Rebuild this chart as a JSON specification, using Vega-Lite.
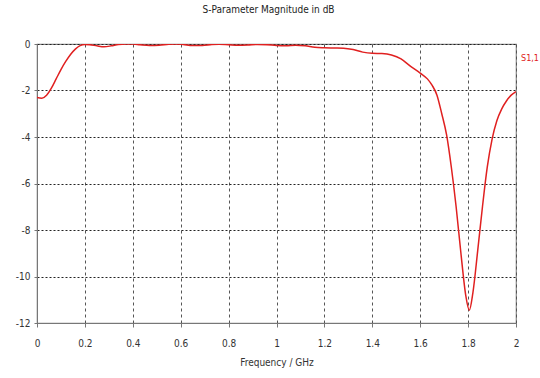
{
  "$schema": "https://vega.github.io/schema/vega-lite/v6.json",
  "width": 479,
  "height": 279,
  "autosize": {"type": "none"},
  "padding": {"left": 37, "top": 44, "right": 24, "bottom": 55},
  "background": "white",
  "title": {"text": "S-Parameter Magnitude in dB", "fontSize": 10, "fontWeight": "normal", "font": "DejaVu Sans Condensed", "color": "#222", "anchor": "middle", "offset": 24, "dx": -8},
  "config": {
    "view": {"stroke": "#888", "strokeWidth": 1.2},
    "axis": {"labelFont": "DejaVu Sans Condensed", "titleFont": "DejaVu Sans Condensed", "labelFontSize": 10, "titleFontSize": 10, "titleFontWeight": "normal", "labelColor": "#333", "titleColor": "#333", "domainColor": "#777", "tickColor": "#777"}
  },
  "datasets": {
    "s11": [
      {"f": 0, "db": -2.3}, {"f": 0.02, "db": -2.33}, {"f": 0.04, "db": -2.2}, {"f": 0.06, "db": -1.9},
      {"f": 0.08, "db": -1.5}, {"f": 0.10, "db": -1.1}, {"f": 0.12, "db": -0.75}, {"f": 0.14, "db": -0.45},
      {"f": 0.16, "db": -0.22}, {"f": 0.18, "db": -0.07}, {"f": 0.20, "db": -0.02}, {"f": 0.22, "db": -0.03},
      {"f": 0.25, "db": -0.08}, {"f": 0.28, "db": -0.12}, {"f": 0.31, "db": -0.08}, {"f": 0.34, "db": -0.02},
      {"f": 0.37, "db": 0.0}, {"f": 0.40, "db": 0.0}, {"f": 0.43, "db": -0.03}, {"f": 0.47, "db": -0.06},
      {"f": 0.51, "db": -0.05}, {"f": 0.55, "db": -0.01}, {"f": 0.58, "db": 0.0}, {"f": 0.61, "db": -0.02},
      {"f": 0.65, "db": -0.06}, {"f": 0.69, "db": -0.06}, {"f": 0.73, "db": -0.02}, {"f": 0.76, "db": -0.01},
      {"f": 0.80, "db": -0.03}, {"f": 0.84, "db": -0.05}, {"f": 0.88, "db": -0.04}, {"f": 0.92, "db": -0.02},
      {"f": 0.96, "db": -0.03}, {"f": 1.00, "db": -0.06}, {"f": 1.04, "db": -0.07}, {"f": 1.08, "db": -0.05},
      {"f": 1.12, "db": -0.08}, {"f": 1.16, "db": -0.14}, {"f": 1.20, "db": -0.16}, {"f": 1.24, "db": -0.17},
      {"f": 1.28, "db": -0.18}, {"f": 1.32, "db": -0.24}, {"f": 1.36, "db": -0.35}, {"f": 1.40, "db": -0.40},
      {"f": 1.44, "db": -0.41}, {"f": 1.48, "db": -0.47}, {"f": 1.52, "db": -0.64}, {"f": 1.56, "db": -0.96},
      {"f": 1.60, "db": -1.25}, {"f": 1.63, "db": -1.5}, {"f": 1.65, "db": -1.78}, {"f": 1.67, "db": -2.2},
      {"f": 1.69, "db": -3.0}, {"f": 1.71, "db": -3.9}, {"f": 1.73, "db": -5.3}, {"f": 1.75, "db": -7.0},
      {"f": 1.77, "db": -9.0}, {"f": 1.79, "db": -10.8}, {"f": 1.805, "db": -11.45}, {"f": 1.82, "db": -10.7},
      {"f": 1.84, "db": -8.9}, {"f": 1.86, "db": -7.0}, {"f": 1.88, "db": -5.3}, {"f": 1.90, "db": -4.1},
      {"f": 1.92, "db": -3.3}, {"f": 1.94, "db": -2.8}, {"f": 1.96, "db": -2.45}, {"f": 1.98, "db": -2.2},
      {"f": 2.00, "db": -2.05}
    ],
    "lab": [{"name": "S1,1"}]
  },
  "layer": [
    {
      "data": {"name": "s11"},
      "mark": {"type": "line", "color": "#e02020", "strokeWidth": 1.5, "interpolate": "monotone", "clip": true},
      "encoding": {
        "x": {"field": "f", "type": "quantitative", "scale": {"domain": [0, 2], "nice": false},
          "axis": {"values": [0, 0.2, 0.4, 0.6, 0.8, 1, 1.2, 1.4, 1.6, 1.8, 2], "labelExpr": "'' + datum.value", "title": "Frequency / GHz",
            "grid": true, "gridColor": "#555", "gridDash": [3, 3], "gridWidth": 1, "tickSize": 4, "labelPadding": 11, "titlePadding": 9, "labelFlush": false}},
        "y": {"field": "db", "type": "quantitative", "scale": {"domain": [-12, 0], "nice": false},
          "axis": {"values": [-12, -10, -8, -6, -4, -2, 0], "labelExpr": "'' + datum.value", "title": null,
            "grid": true, "gridColor": "#222", "gridDash": [2, 2], "gridWidth": 1, "tickSize": 3, "labelPadding": 4, "labelFlush": false}}
      }
    },
    {
      "data": {"name": "lab"},
      "mark": {"type": "text", "color": "#e02020", "align": "left", "baseline": "middle", "dx": 5, "fontSize": 9, "font": "DejaVu Sans Condensed"},
      "encoding": {
        "x": {"datum": 2, "type": "quantitative"},
        "y": {"datum": -0.6, "type": "quantitative"},
        "text": {"field": "name"}
      }
    }
  ]
}
